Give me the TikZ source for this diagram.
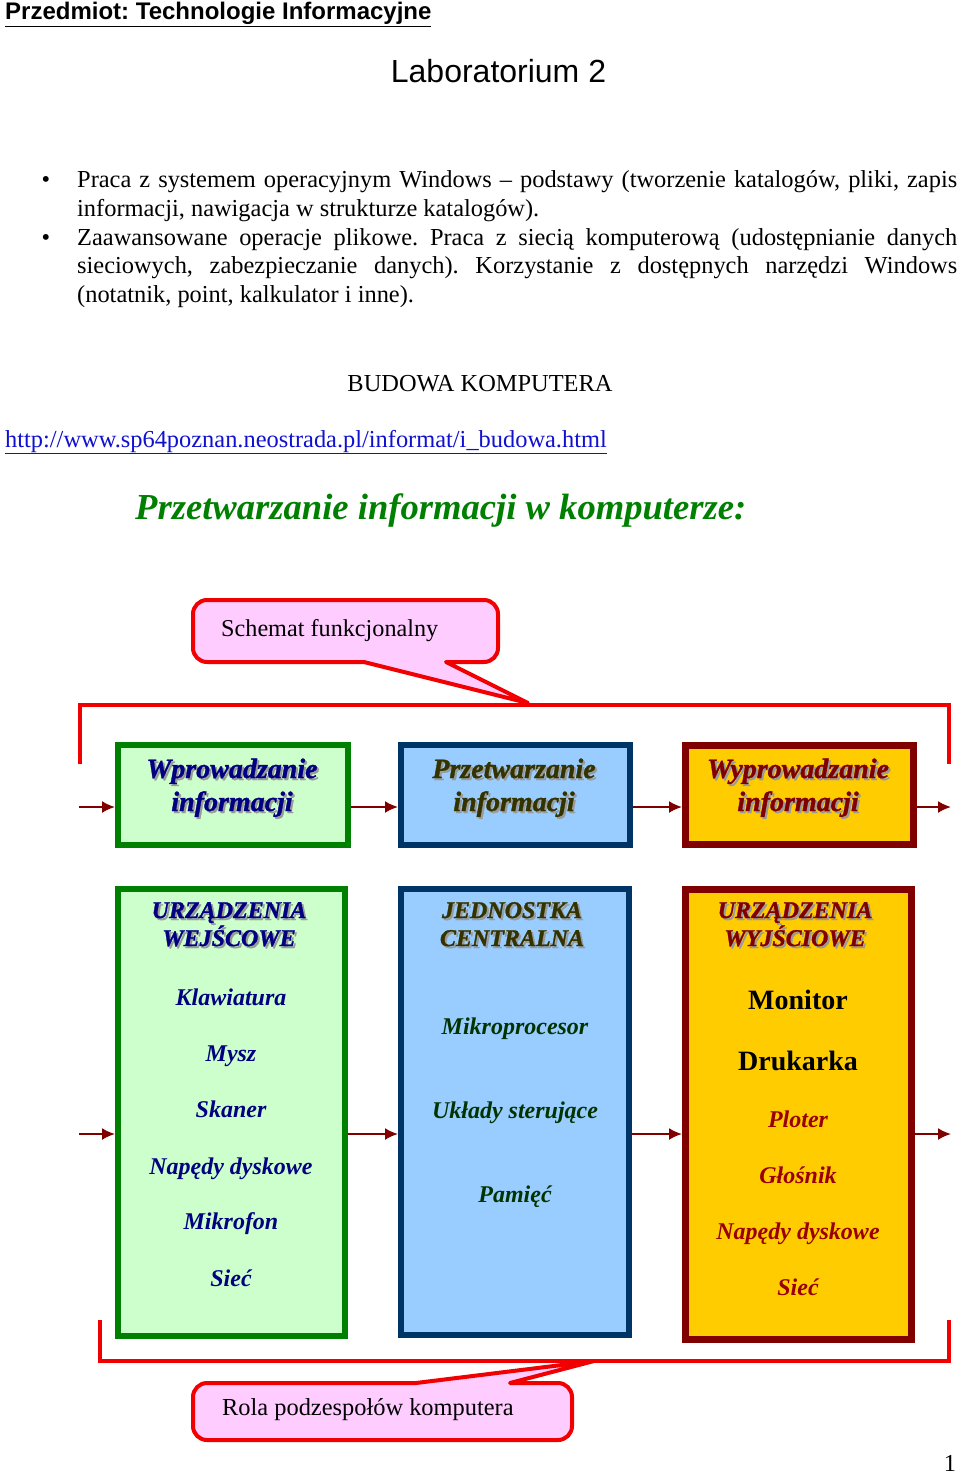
\documentclass[tikz,border=0pt]{standalone}
\usepackage{fontspec}
\setmainfont{Liberation Serif}
\newfontfamily\arialfont{Liberation Sans}
\newfontfamily\wafont{Liberation Serif}[BoldItalicFeatures={FakeBold=1.2}]
\usetikzlibrary{arrows.meta}
\definecolor{pinkfill}{HTML}{FFCCFF}
\definecolor{callred}{HTML}{F00000}
\definecolor{gborder}{HTML}{008000}
\definecolor{gfill}{HTML}{CCFFCC}
\definecolor{bborder}{HTML}{003366}
\definecolor{bfill}{HTML}{99CCFF}
\definecolor{rborder}{HTML}{800000}
\definecolor{yfill}{HTML}{FFCC00}
\definecolor{arrred}{HTML}{800000}
\definecolor{navytxt}{HTML}{000080}
\definecolor{olivetxt}{HTML}{333300}
\definecolor{browntxt}{HTML}{800000}
\definecolor{dgreentxt}{HTML}{003300}
\definecolor{redtxt}{HTML}{990000}
\definecolor{headgreen}{HTML}{008000}
\definecolor{linkblue}{HTML}{1010D0}
\definecolor{shadowgray}{HTML}{9A9A9A}
\newcommand\shd[2]{\makebox[0pt][l]{\hspace{2pt}\raisebox{-2pt}{\textcolor{shadowgray}{#2}}}\textcolor{#1}{#2}}
\frenchspacing
\begin{document}
\begin{tikzpicture}[x=1pt,y=1pt,
  body/.style={inner sep=0pt, font=\fontsize{24.4}{28.6}\selectfont},
  bline/.style={body, anchor=base west},
  callout/.style={draw=callred, fill=pinkfill, line width=4pt, line join=round},
  bracket/.style={draw=callred, line width=4pt},
  gbox/.style={draw=gborder, fill=gfill, line width=6pt, inner sep=0pt},
  bbox/.style={draw=bborder, fill=bfill, line width=6pt, inner sep=0pt},
  ybox/.style={draw=rborder, fill=yfill, line width=7pt, inner sep=0pt},
  arr/.style={draw=arrred, line width=2pt, -{Latex[length=13pt,width=12pt]}},
  toptxt/.style={anchor=base, inner sep=0pt, font=\wafont\bfseries\itshape\fontsize{28}{33}\selectfont},
  headtxt/.style={anchor=base, inner sep=0pt, font=\wafont\bfseries\itshape\fontsize{24}{28}\selectfont},
  item/.style={anchor=base, inner sep=0pt, font=\bfseries\itshape\fontsize{24}{28}\selectfont},
  bigitem/.style={anchor=base, inner sep=0pt, font=\bfseries\fontsize{28}{30}\selectfont}
]
\useasboundingbox[fill=white] (0,0) rectangle (960,-1474);

% header
\node[anchor=base west, inner sep=0pt, font=\arialfont\bfseries\fontsize{24}{28}\selectfont] (hdr) at (5,-20) {\underline{Przedmiot: Technologie Informacyjne}};
\node[anchor=base, inner sep=0pt, font=\arialfont\fontsize{32}{36}\selectfont] (lab) at (498.5,-83) {Laboratorium 2};

% bullets
\node[body, anchor=base] (bul1) at (46,-188) {\textbullet};
\node[body, anchor=base] (bul2) at (46,-245) {\textbullet};
\node[bline] (l1) at (77,-188) {\makebox[880pt][s]{Praca z systemem operacyjnym Windows – podstawy (tworzenie katalogów, pliki, zapis}};
\node[bline] (l2) at (77,-216.5) {informacji, nawigacja w strukturze katalogów).};
\node[bline] (l3) at (77,-245) {\makebox[880pt][s]{Zaawansowane operacje plikowe. Praca z siecią komputerową (udostępnianie danych}};
\node[bline] (l4) at (77,-273.5) {\makebox[880pt][s]{sieciowych, zabezpieczanie danych). Korzystanie z dostępnych narzędzi Windows}};
\node[bline] (l5) at (77,-302) {(notatnik, point, kalkulator i inne).};

\node[body, anchor=base] (budowa) at (480,-391) {BUDOWA KOMPUTERA};
\node[bline] (url) at (5,-447) {\color{linkblue}\underline{http://www.sp64poznan.neostrada.pl/informat/i\_budowa.html}};
\node[anchor=base west, inner sep=0pt, text=headgreen, font=\bfseries\itshape\fontsize{36.6}{40}\selectfont] (title) at (135,-519) {Przetwarzanie informacji w komputerze:};

% callout 1 and top bracket
\draw[callout] (207,-600) -- (484,-600) arc[start angle=90,end angle=0,radius=14]
  -- (498,-648) arc[start angle=0,end angle=-90,radius=14]
  -- (446,-662) -- (528,-703) -- (364,-662)
  -- (207,-662) arc[start angle=270,end angle=180,radius=14]
  -- (193,-614) arc[start angle=180,end angle=90,radius=14] -- cycle;
\node[body, anchor=base west, font=\fontsize{24.2}{28}\selectfont] (c1) at (221,-636) {Schemat funkcjonalny};
\draw[bracket] (80,-764) -- (80,-705) -- (949,-705) -- (949,-764);

% top boxes
\node[gbox, minimum width=230pt, minimum height=100pt] (b1) at (233,-795) {};
\node[bbox, minimum width=229pt, minimum height=100pt] (b2) at (515.5,-795) {};
\node[ybox, minimum width=228pt, minimum height=99pt] (b3) at (799.5,-795) {};

\node[toptxt] (t1a) at (232,-778) {\shd{navytxt}{Wprowadzanie}};
\node[toptxt] (t1b) at (232,-811) {\shd{navytxt}{informacji}};
\node[toptxt] (t2a) at (514,-778) {\shd{olivetxt}{Przetwarzanie}};
\node[toptxt] (t2b) at (514,-811) {\shd{olivetxt}{informacji}};
\node[toptxt] (t3a) at (798,-778) {\shd{browntxt}{Wyprowadzanie}};
\node[toptxt] (t3b) at (798,-811) {\shd{browntxt}{informacji}};

\coordinate (inA) at (79,-807);
\coordinate (outA) at (951,-807);
\draw[arr] (inA) -- (inA -| b1.west);
\draw[arr] (b1.east |- inA) -- (b2.west |- inA);
\draw[arr] (b2.east |- inA) -- (b3.west |- inA);
\draw[arr] (b3.east |- inA) -- (outA);

% bottom boxes
\node[gbox, minimum width=227pt, minimum height=447pt] (b4) at (231.5,-1112.5) {};
\node[bbox, minimum width=228pt, minimum height=446pt] (b5) at (515,-1112) {};
\node[ybox, minimum width=226pt, minimum height=450pt] (b6) at (798.5,-1114.5) {};

\node[headtxt] (h4a) at (229,-918) {\shd{navytxt}{URZĄDZENIA}};
\node[headtxt] (h4b) at (229,-946) {\shd{navytxt}{WEJŚCOWE}};
\node[headtxt] (h5a) at (512,-918) {\shd{olivetxt}{JEDNOSTKA}};
\node[headtxt] (h5b) at (512,-946) {\shd{olivetxt}{CENTRALNA}};
\node[headtxt] (h6a) at (795,-918) {\shd{browntxt}{URZĄDZENIA}};
\node[headtxt] (h6b) at (795,-946) {\shd{browntxt}{WYJŚCIOWE}};

\node[item, text=navytxt] (i1) at (231,-1005) {Klawiatura};
\node[item, text=navytxt] (i2) at (231,-1061) {Mysz};
\node[item, text=navytxt] (i3) at (231,-1117) {Skaner};
\node[item, text=navytxt] (i4) at (231,-1174) {Napędy dyskowe};
\node[item, text=navytxt] (i5) at (231,-1229) {Mikrofon};
\node[item, text=navytxt] (i6) at (231,-1286) {Sieć};

\node[item, text=dgreentxt] (m1) at (515,-1034) {Mikroprocesor};
\node[item, text=dgreentxt] (m2) at (515,-1118) {Układy sterujące};
\node[item, text=dgreentxt] (m3) at (515,-1202) {Pamięć};

\node[bigitem] (o1) at (798,-1009) {Monitor};
\node[bigitem] (o2) at (798,-1070) {Drukarka};
\node[item, text=redtxt] (o3) at (798,-1127) {Ploter};
\node[item, text=redtxt] (o4) at (798,-1183) {Głośnik};
\node[item, text=redtxt] (o5) at (798,-1239) {Napędy dyskowe};
\node[item, text=redtxt] (o6) at (798,-1295) {Sieć};

\coordinate (inB) at (79,-1134);
\coordinate (outB) at (951,-1134);
\draw[arr] (inB) -- (inB -| b4.west);
\draw[arr] (b4.east |- inB) -- (b5.west |- inB);
\draw[arr] (b5.east |- inB) -- (b6.west |- inB);
\draw[arr] (b6.east |- inB) -- (outB);

% bottom bracket and callout 2
\draw[bracket] (100,-1320) -- (100,-1361) -- (949,-1361) -- (949,-1320);
\draw[callout] (207,-1383) -- (416,-1383) -- (594,-1361) -- (510,-1383)
  -- (558,-1383) arc[start angle=90,end angle=0,radius=14]
  -- (572,-1426) arc[start angle=0,end angle=-90,radius=14]
  -- (207,-1440) arc[start angle=270,end angle=180,radius=14]
  -- (193,-1397) arc[start angle=180,end angle=90,radius=14] -- cycle;
\node[body, anchor=base west, font=\fontsize{24.4}{28}\selectfont] (c2) at (222,-1415) {Rola podzespołów komputera};

\node[body, anchor=base] (pg) at (950,-1471) {1};
\end{tikzpicture}
\end{document}
